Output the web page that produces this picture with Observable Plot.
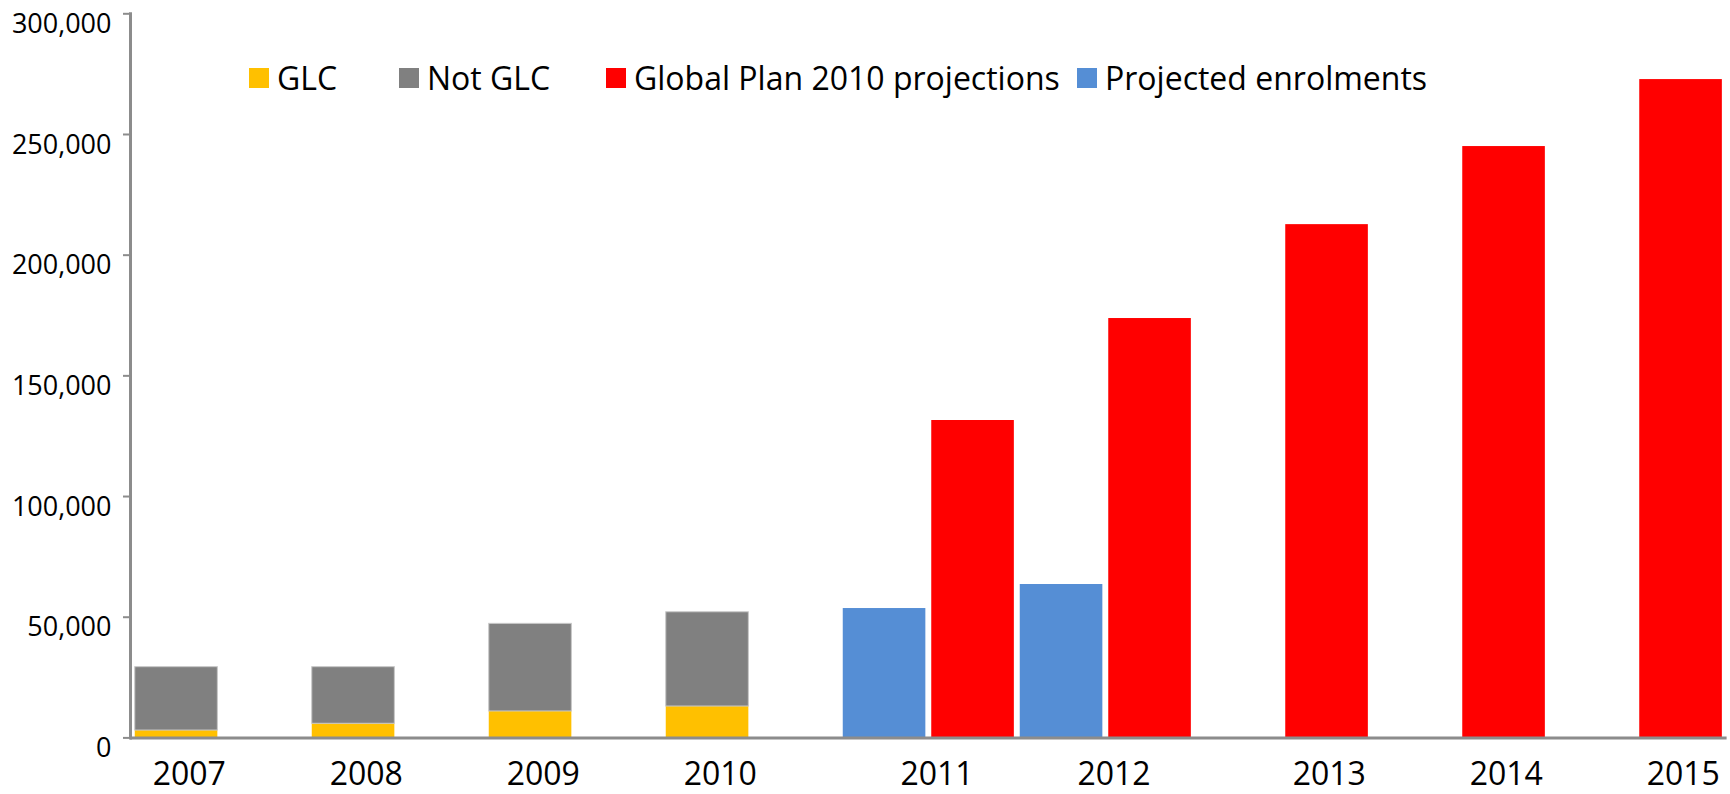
<!DOCTYPE html>
<html>
<head>
<meta charset="utf-8">
<script src="https://cdn.jsdelivr.net/npm/d3@7"></script>
<script src="https://cdn.jsdelivr.net/npm/@observablehq/plot@0.6"></script>
<style>
  html, body { margin: 0; padding: 0; background: #fff; }
  #wrap { position: relative; width: 1730px; height: 794px; font-family: "Open Sans", sans-serif; }
  #legend { position: absolute; top: 62px; left: 0; width: 1730px; height: 40px; font-size: 32px; line-height: 32px; color: #000; }
  .item { position: absolute; top: 0; display: flex; align-items: flex-start; white-space: nowrap; }
  .sw { width: 20px; height: 20px; margin-top: 5.5px; margin-right: 8px; }
</style>
</head>
<body>
<div id="wrap"><div id="chart"></div><div id="legend"></div></div>
<script>
// ---- data ----
const years = ["2007", "2008", "2009", "2010", "2011", "2012", "2013", "2014", "2015"];
const glc = [3050, 5850, 10950, 13000, null, null, null, null, null];
const notGlc = [26250, 23450, 36300, 39050, null, null, null, null, null];
const projectedEnrolments = [null, null, null, null, 53600, 63550, null, null, null];
const globalPlan2010 = [null, null, null, null, 131500, 173750, 212650, 245000, 272750];
const seriesNames = ["GLC", "Not GLC", "Global Plan 2010 projections", "Projected enrolments"];
const seriesColors = ["#FFC000", "#808080", "#FF0000", "#558ED5"];
const yTicks = [0, 50000, 100000, 150000, 200000, 250000, 300000];
const legendLefts = [249, 399, 606, 1077];

// ---- tables ----
const colorOf = Object.fromEntries(seriesNames.map((s, i) => [s, seriesColors[i]]));
const stackRows = [];
years.forEach((year, i) => {
  if (glc[i] != null) stackRows.push({year, series: "GLC", value: glc[i]});
  if (notGlc[i] != null) stackRows.push({year, series: "Not GLC", value: notGlc[i]});
});
const blueRows = years.map((year, i) => ({year, series: "Projected enrolments", value: projectedEnrolments[i]})).filter(d => d.value != null);
const redRows = years.map((year, i) => ({year, series: "Global Plan 2010 projections", value: globalPlan2010[i]})).filter(d => d.value != null);
const labelRows = years.map((year, i) => {
  const a = glc[i] != null || notGlc[i] != null || projectedEnrolments[i] != null;
  const b = globalPlan2010[i] != null;
  return {year, group: a && b ? "pair" : a ? "left" : "right"};
});

const axisGray = "#8c8c8c";
const slotA = {insetLeft: 2.75, insetRight: 91.65};
const slotB = {insetLeft: 91.25, insetRight: 3.15};
const labelStyle = {x: "year", text: "year", frameAnchor: "bottom", lineAnchor: "middle", fontSize: 32, dy: 36.4, fill: "#000"};
const fillOf = d => colorOf[d.series];

const chart = Plot.plot({
  width: 1730,
  height: 794,
  marginLeft: 130,
  marginRight: 3.4,
  marginTop: 13.3,
  marginBottom: 56.6,
  style: {fontFamily: "Open Sans", fontSize: "27px", color: "#000", background: "#fff"},
  x: {type: "band", domain: years, padding: 0, axis: null},
  y: {domain: [0, 300000], axis: null},
  marks: [
    Plot.barY(stackRows, {
      x: "year", y: "value", z: "series", order: ["GLC", "Not GLC"], fill: fillOf,
      stroke: d => d.series === "Not GLC" ? "#c8c8c8" : "none", strokeWidth: 1, ...slotA
    }),
    Plot.barY(blueRows, {x: "year", y: "value", fill: fillOf, ...slotA}),
    Plot.barY(redRows, {x: "year", y: "value", fill: fillOf, ...slotB}),
    // tick marks (no labels)
    Plot.axisY({ticks: yTicks, tickSize: 7, fill: "none", stroke: axisGray, strokeWidth: 2, label: null}),
    // tick labels (offset below their ticks, as in the reference)
    Plot.axisY({ticks: yTicks, tickFormat: d3.format(","), tickSize: 0, tickPadding: 19, fontSize: 27, dy: 10.5, fill: "#000", label: null}),
    Plot.frame({anchor: "left", stroke: axisGray, strokeWidth: 3}),
    Plot.ruleY([0], {stroke: axisGray, strokeWidth: 3}),
    Plot.text(labelRows.filter(d => d.group === "left"), {...labelStyle, dx: -31.7}),
    Plot.text(labelRows.filter(d => d.group === "pair"), {...labelStyle, dx: 8}),
    Plot.text(labelRows.filter(d => d.group === "right"), {...labelStyle, dx: 46.3})
  ]
});
document.getElementById("chart").appendChild(chart);

// ---- legend overlay ----
const legend = document.getElementById("legend");
seriesNames.forEach((name, i) => {
  const item = document.createElement("div");
  item.className = "item";
  item.style.left = legendLefts[i] + "px";
  const sw = document.createElement("span");
  sw.className = "sw";
  sw.style.background = seriesColors[i];
  const tx = document.createElement("span");
  tx.textContent = name;
  item.appendChild(sw);
  item.appendChild(tx);
  legend.appendChild(item);
});
</script>
</body>
</html>
